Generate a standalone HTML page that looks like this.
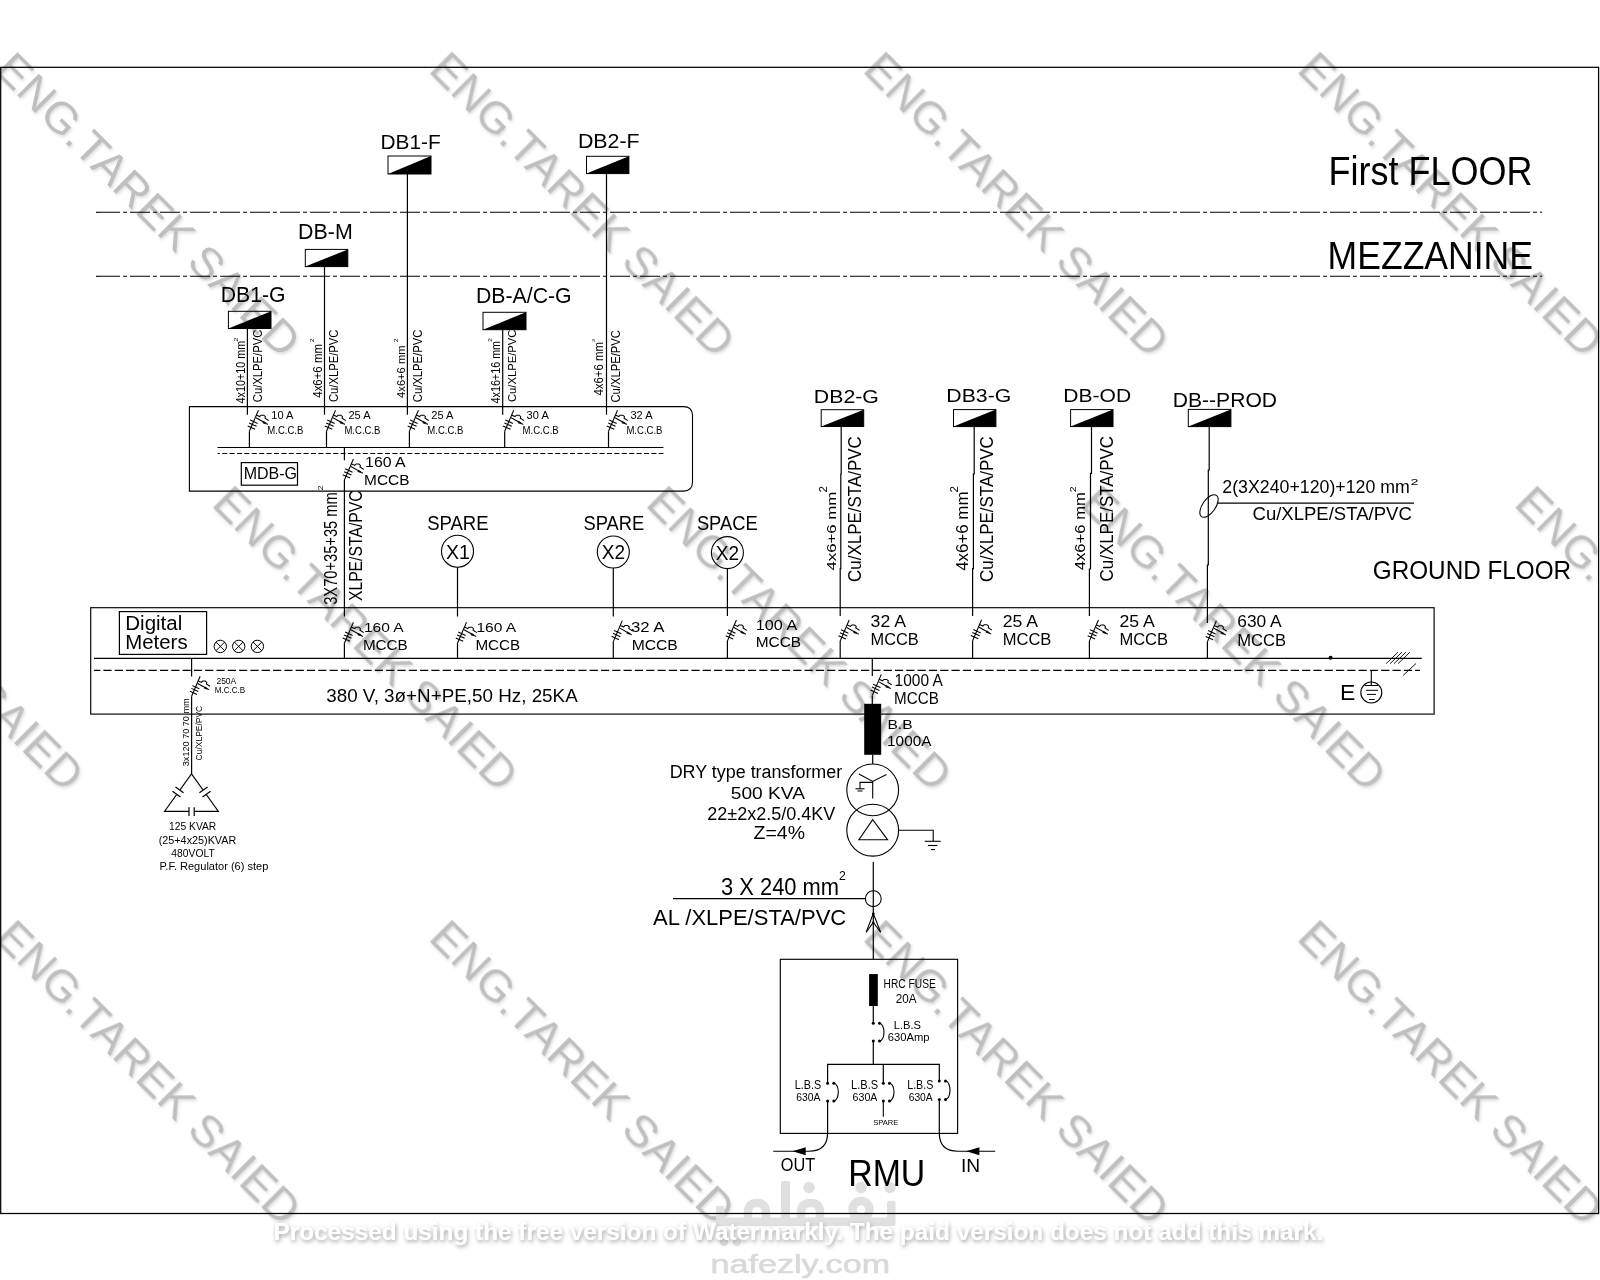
<!DOCTYPE html><html><head><meta charset="utf-8"><style>html,body{margin:0;padding:0;background:#fff;width:1600px;height:1280px;overflow:hidden}svg{display:block}text{font-family:"Liberation Sans",sans-serif}</style></head><body>
<svg width="1600" height="1280" viewBox="0 0 1600 1280">
<defs><filter id="ws" x="-10%" y="-10%" width="130%" height="130%"><feGaussianBlur in="SourceAlpha" stdDeviation="1.5"/><feOffset dx="1.2" dy="1.6" result="b"/><feFlood flood-color="#a0a0a0" flood-opacity="0.35"/><feComposite in2="b" operator="in"/><feMerge><feMergeNode/><feMergeNode in="SourceGraphic"/></feMerge></filter><filter id="ps" x="-5%" y="-50%" width="110%" height="200%"><feGaussianBlur in="SourceAlpha" stdDeviation="2.2"/><feOffset dx="1.2" dy="1.8" result="b"/><feFlood flood-color="#707070" flood-opacity="0.65"/><feComposite in2="b" operator="in"/><feMerge><feMergeNode/><feMergeNode in="SourceGraphic"/></feMerge></filter></defs>
<g fill="#bfbfbf" filter="url(#ws)">
<text transform="translate(-3.6,74.0) rotate(45)" x="-4.2" y="0" font-size="44" textLength="408" lengthAdjust="spacingAndGlyphs">ENG.TAREK SAIED</text>
<text transform="translate(430.5,74.0) rotate(45)" x="-4.2" y="0" font-size="44" textLength="408" lengthAdjust="spacingAndGlyphs">ENG.TAREK SAIED</text>
<text transform="translate(864.6,74.0) rotate(45)" x="-4.2" y="0" font-size="44" textLength="408" lengthAdjust="spacingAndGlyphs">ENG.TAREK SAIED</text>
<text transform="translate(1298.7,74.0) rotate(45)" x="-4.2" y="0" font-size="44" textLength="408" lengthAdjust="spacingAndGlyphs">ENG.TAREK SAIED</text>
<text transform="translate(-220.7,508.1) rotate(45)" x="-4.2" y="0" font-size="44" textLength="408" lengthAdjust="spacingAndGlyphs">ENG.TAREK SAIED</text>
<text transform="translate(213.5,508.1) rotate(45)" x="-4.2" y="0" font-size="44" textLength="408" lengthAdjust="spacingAndGlyphs">ENG.TAREK SAIED</text>
<text transform="translate(647.5,508.1) rotate(45)" x="-4.2" y="0" font-size="44" textLength="408" lengthAdjust="spacingAndGlyphs">ENG.TAREK SAIED</text>
<text transform="translate(1081.7,508.1) rotate(45)" x="-4.2" y="0" font-size="44" textLength="408" lengthAdjust="spacingAndGlyphs">ENG.TAREK SAIED</text>
<text transform="translate(1515.8,508.1) rotate(45)" x="-4.2" y="0" font-size="44" textLength="408" lengthAdjust="spacingAndGlyphs">ENG.TAREK SAIED</text>
<text transform="translate(-3.6,942.2) rotate(45)" x="-4.2" y="0" font-size="44" textLength="408" lengthAdjust="spacingAndGlyphs">ENG.TAREK SAIED</text>
<text transform="translate(430.5,942.2) rotate(45)" x="-4.2" y="0" font-size="44" textLength="408" lengthAdjust="spacingAndGlyphs">ENG.TAREK SAIED</text>
<text transform="translate(864.6,942.2) rotate(45)" x="-4.2" y="0" font-size="44" textLength="408" lengthAdjust="spacingAndGlyphs">ENG.TAREK SAIED</text>
<text transform="translate(1298.7,942.2) rotate(45)" x="-4.2" y="0" font-size="44" textLength="408" lengthAdjust="spacingAndGlyphs">ENG.TAREK SAIED</text>
</g>
<g fill="#e4e4e4" stroke="none">
<text x="710.5" y="1272.5" font-size="25.36" textLength="179.6" lengthAdjust="spacingAndGlyphs" fill="#d9d9d9" font-weight="normal" stroke="#d9d9d9" stroke-width="0.6">nafezly.com</text>
</g>
<g fill="#e0e0e0" stroke="none">
<rect x="716" y="1217.5" width="179" height="8.5" rx="3"/>
<rect x="781" y="1181" width="9" height="45" rx="2"/>
<rect x="887" y="1201" width="8.5" height="25" rx="2"/>
<path d="M716,1206 L724,1206 L726,1226 L716,1226 Z"/>
<circle cx="809" cy="1187.5" r="5.8"/><circle cx="861" cy="1187.5" r="5.8"/><circle cx="890" cy="1187.5" r="5.8"/><circle cx="724" cy="1242" r="4.2"/><circle cx="737" cy="1242" r="4.2"/>
</g>
<g fill="none" stroke="#e0e0e0" stroke-width="8.5">
<path d="M748,1226 L748,1212 Q748,1203 757,1203 Q766,1203 766,1212 L766,1222"/>
<path d="M801,1222 L801,1212 Q801,1203 811,1203 Q820,1203 820,1212 L820,1222"/>
<circle cx="861" cy="1209.5" r="8.5"/>
</g>
<g stroke="#000" fill="none" stroke-linecap="butt">
<rect x="0.7" y="67.3" width="1597.9" height="1146.2" stroke-width="1.25"/>
<line x1="96" y1="212.3" x2="100" y2="212.3" stroke-width="1.1" />
<line x1="100" y1="212.3" x2="1542" y2="212.3" stroke-width="1.1" stroke-dasharray="20 3 4 3"/>
<line x1="96" y1="276.3" x2="100" y2="276.3" stroke-width="1.1" />
<line x1="100" y1="276.3" x2="1542" y2="276.3" stroke-width="1.1" stroke-dasharray="20 3 4 3"/>
<path d="M189.4,406.6 H683.5 Q692.5,406.6 692.5,415.6 V482.1 Q692.5,491.1 683.5,491.1 H189.4 Z" stroke-width="1.1"/>
<line x1="217.5" y1="447.5" x2="663.4" y2="447.5" stroke-width="1.2" />
<line x1="217.5" y1="453.5" x2="663.4" y2="453.5" stroke-width="1.2" stroke-dasharray="5 2.4" stroke-dashoffset="2.7"/>
<rect x="241.3" y="462.6" width="56.2" height="22.6" stroke-width="1.2"/>
<rect x="388" y="156" width="43" height="18" fill="none" stroke-width="1.0"/>
<polygon points="388,174 431,156 431,174" fill="#000" stroke="none"/>
<rect x="586.5" y="156.3" width="42.39999999999998" height="17.299999999999983" fill="none" stroke-width="1.0"/>
<polygon points="586.5,173.6 628.9,156.3 628.9,173.6" fill="#000" stroke="none"/>
<rect x="305.3" y="249.4" width="42.5" height="17.200000000000017" fill="none" stroke-width="1.0"/>
<polygon points="305.3,266.6 347.8,249.4 347.8,266.6" fill="#000" stroke="none"/>
<rect x="228.4" y="311.3" width="42.599999999999994" height="17.19999999999999" fill="none" stroke-width="1.0"/>
<polygon points="228.4,328.5 271,311.3 271,328.5" fill="#000" stroke="none"/>
<rect x="483" y="312.3" width="43" height="17.399999999999977" fill="none" stroke-width="1.0"/>
<polygon points="483,329.7 526,312.3 526,329.7" fill="#000" stroke="none"/>
<line x1="407.4" y1="174" x2="407.4" y2="414.7" stroke-width="1.2" />
<g transform="translate(409.4,431.2) scale(1.0)" stroke-width="1.05" fill="none"><line x1="0" y1="0" x2="9" y2="-21"/><line x1="-1.70" y1="-5.30" x2="5.70" y2="-1.90"/><line x1="-0.30" y1="-8.30" x2="7.10" y2="-4.90"/><line x1="0.75" y1="-11.20" x2="8.15" y2="-7.80"/><path d="M6.5,-13.5 L16.5,-7.9"/><path d="M14.2,-9.8 L18.6,-6.8 L13.4,-8.3 Z" fill="#000" stroke-width="0.6"/><path d="M6.75,-16.25 L10.3,-14.6 L11.6,-16 L14.4,-16 L16,-14.6 L15.6,-13 L19.4,-10.6"/></g>
<line x1="409.4" y1="431.2" x2="409.4" y2="447.5" stroke-width="1.2" />
<line x1="606.5" y1="173.6" x2="606.5" y2="414.7" stroke-width="1.2" />
<g transform="translate(608.5,431.2) scale(1.0)" stroke-width="1.05" fill="none"><line x1="0" y1="0" x2="9" y2="-21"/><line x1="-1.70" y1="-5.30" x2="5.70" y2="-1.90"/><line x1="-0.30" y1="-8.30" x2="7.10" y2="-4.90"/><line x1="0.75" y1="-11.20" x2="8.15" y2="-7.80"/><path d="M6.5,-13.5 L16.5,-7.9"/><path d="M14.2,-9.8 L18.6,-6.8 L13.4,-8.3 Z" fill="#000" stroke-width="0.6"/><path d="M6.75,-16.25 L10.3,-14.6 L11.6,-16 L14.4,-16 L16,-14.6 L15.6,-13 L19.4,-10.6"/></g>
<line x1="608.5" y1="431.2" x2="608.5" y2="447.5" stroke-width="1.2" />
<line x1="324.5" y1="266.6" x2="324.5" y2="414.7" stroke-width="1.2" />
<g transform="translate(326.5,431.2) scale(1.0)" stroke-width="1.05" fill="none"><line x1="0" y1="0" x2="9" y2="-21"/><line x1="-1.70" y1="-5.30" x2="5.70" y2="-1.90"/><line x1="-0.30" y1="-8.30" x2="7.10" y2="-4.90"/><line x1="0.75" y1="-11.20" x2="8.15" y2="-7.80"/><path d="M6.5,-13.5 L16.5,-7.9"/><path d="M14.2,-9.8 L18.6,-6.8 L13.4,-8.3 Z" fill="#000" stroke-width="0.6"/><path d="M6.75,-16.25 L10.3,-14.6 L11.6,-16 L14.4,-16 L16,-14.6 L15.6,-13 L19.4,-10.6"/></g>
<line x1="326.5" y1="431.2" x2="326.5" y2="447.5" stroke-width="1.2" />
<line x1="247.4" y1="328.5" x2="247.4" y2="414.7" stroke-width="1.2" />
<g transform="translate(249.4,431.2) scale(1.0)" stroke-width="1.05" fill="none"><line x1="0" y1="0" x2="9" y2="-21"/><line x1="-1.70" y1="-5.30" x2="5.70" y2="-1.90"/><line x1="-0.30" y1="-8.30" x2="7.10" y2="-4.90"/><line x1="0.75" y1="-11.20" x2="8.15" y2="-7.80"/><path d="M6.5,-13.5 L16.5,-7.9"/><path d="M14.2,-9.8 L18.6,-6.8 L13.4,-8.3 Z" fill="#000" stroke-width="0.6"/><path d="M6.75,-16.25 L10.3,-14.6 L11.6,-16 L14.4,-16 L16,-14.6 L15.6,-13 L19.4,-10.6"/></g>
<line x1="249.4" y1="431.2" x2="249.4" y2="447.5" stroke-width="1.2" />
<line x1="502.7" y1="329.7" x2="502.7" y2="414.7" stroke-width="1.2" />
<g transform="translate(504.7,431.2) scale(1.0)" stroke-width="1.05" fill="none"><line x1="0" y1="0" x2="9" y2="-21"/><line x1="-1.70" y1="-5.30" x2="5.70" y2="-1.90"/><line x1="-0.30" y1="-8.30" x2="7.10" y2="-4.90"/><line x1="0.75" y1="-11.20" x2="8.15" y2="-7.80"/><path d="M6.5,-13.5 L16.5,-7.9"/><path d="M14.2,-9.8 L18.6,-6.8 L13.4,-8.3 Z" fill="#000" stroke-width="0.6"/><path d="M6.75,-16.25 L10.3,-14.6 L11.6,-16 L14.4,-16 L16,-14.6 L15.6,-13 L19.4,-10.6"/></g>
<line x1="504.7" y1="431.2" x2="504.7" y2="447.5" stroke-width="1.2" />
<line x1="344.4" y1="447.4" x2="344.4" y2="460.3" stroke-width="1.2" />
<g transform="translate(344.4,480) scale(1.0)" stroke-width="1.05" fill="none"><line x1="0" y1="0" x2="9" y2="-21"/><line x1="-1.70" y1="-5.30" x2="5.70" y2="-1.90"/><line x1="-0.30" y1="-8.30" x2="7.10" y2="-4.90"/><line x1="0.75" y1="-11.20" x2="8.15" y2="-7.80"/><path d="M6.5,-13.5 L16.5,-7.9"/><path d="M14.2,-9.8 L18.6,-6.8 L13.4,-8.3 Z" fill="#000" stroke-width="0.6"/><path d="M6.75,-16.25 L10.3,-14.6 L11.6,-16 L14.4,-16 L16,-14.6 L15.6,-13 L19.4,-10.6"/></g>
<line x1="344.4" y1="480" x2="344.4" y2="616.5" stroke-width="1.2" />
<rect x="90.7" y="607.7" width="1343.4" height="106.4" stroke-width="1.15"/>
<line x1="94" y1="658.3" x2="1421.8" y2="658.3" stroke-width="1.2" />
<line x1="94" y1="670.4" x2="1420" y2="670.4" stroke-width="1.2" stroke-dasharray="8.2 3.108" stroke-dashoffset="1.9"/>
<rect x="119.4" y="611.6" width="87.2" height="42.8" stroke-width="1.2"/>
<circle cx="220.3" cy="646.4" r="6.2" stroke-width="1"/>
<line x1="215.91598000000002" y1="642.01598" x2="224.68402" y2="650.7840199999999" stroke-width="1" />
<line x1="215.91598000000002" y1="650.7840199999999" x2="224.68402" y2="642.01598" stroke-width="1" />
<circle cx="238.7" cy="646.4" r="6.2" stroke-width="1"/>
<line x1="234.31598" y1="642.01598" x2="243.08401999999998" y2="650.7840199999999" stroke-width="1" />
<line x1="234.31598" y1="650.7840199999999" x2="243.08401999999998" y2="642.01598" stroke-width="1" />
<circle cx="257.4" cy="646.4" r="6.2" stroke-width="1"/>
<line x1="253.01597999999998" y1="642.01598" x2="261.78402" y2="650.7840199999999" stroke-width="1" />
<line x1="253.01597999999998" y1="650.7840199999999" x2="261.78402" y2="642.01598" stroke-width="1" />
<g transform="translate(344.4,643.2) scale(1.0)" stroke-width="1.05" fill="none"><line x1="0" y1="0" x2="9" y2="-21"/><line x1="-1.70" y1="-5.30" x2="5.70" y2="-1.90"/><line x1="-0.30" y1="-8.30" x2="7.10" y2="-4.90"/><line x1="0.75" y1="-11.20" x2="8.15" y2="-7.80"/><path d="M6.5,-13.5 L16.5,-7.9"/><path d="M14.2,-9.8 L18.6,-6.8 L13.4,-8.3 Z" fill="#000" stroke-width="0.6"/><path d="M6.75,-16.25 L10.3,-14.6 L11.6,-16 L14.4,-16 L16,-14.6 L15.6,-13 L19.4,-10.6"/></g>
<line x1="344.4" y1="643.2" x2="344.4" y2="658.3" stroke-width="1.2" />
<circle cx="457.5" cy="551.2" r="16" stroke-width="1.1"/>
<line x1="457.5" y1="567.2" x2="457.5" y2="616.5" stroke-width="1.2" />
<g transform="translate(457.5,643.2) scale(1.0)" stroke-width="1.05" fill="none"><line x1="0" y1="0" x2="9" y2="-21"/><line x1="-1.70" y1="-5.30" x2="5.70" y2="-1.90"/><line x1="-0.30" y1="-8.30" x2="7.10" y2="-4.90"/><line x1="0.75" y1="-11.20" x2="8.15" y2="-7.80"/><path d="M6.5,-13.5 L16.5,-7.9"/><path d="M14.2,-9.8 L18.6,-6.8 L13.4,-8.3 Z" fill="#000" stroke-width="0.6"/><path d="M6.75,-16.25 L10.3,-14.6 L11.6,-16 L14.4,-16 L16,-14.6 L15.6,-13 L19.4,-10.6"/></g>
<line x1="457.5" y1="643.2" x2="457.5" y2="658.3" stroke-width="1.2" />
<circle cx="613.3" cy="552" r="16" stroke-width="1.1"/>
<line x1="613.3" y1="568" x2="613.3" y2="616.4" stroke-width="1.2" />
<g transform="translate(613.3,641.6) scale(1.0)" stroke-width="1.05" fill="none"><line x1="0" y1="0" x2="9" y2="-21"/><line x1="-1.70" y1="-5.30" x2="5.70" y2="-1.90"/><line x1="-0.30" y1="-8.30" x2="7.10" y2="-4.90"/><line x1="0.75" y1="-11.20" x2="8.15" y2="-7.80"/><path d="M6.5,-13.5 L16.5,-7.9"/><path d="M14.2,-9.8 L18.6,-6.8 L13.4,-8.3 Z" fill="#000" stroke-width="0.6"/><path d="M6.75,-16.25 L10.3,-14.6 L11.6,-16 L14.4,-16 L16,-14.6 L15.6,-13 L19.4,-10.6"/></g>
<line x1="613.3" y1="641.6" x2="613.3" y2="658.3" stroke-width="1.2" />
<circle cx="727.4" cy="552.6" r="16" stroke-width="1.1"/>
<line x1="727.4" y1="568.6" x2="727.4" y2="616" stroke-width="1.2" />
<g transform="translate(727.4,641) scale(1.0)" stroke-width="1.05" fill="none"><line x1="0" y1="0" x2="9" y2="-21"/><line x1="-1.70" y1="-5.30" x2="5.70" y2="-1.90"/><line x1="-0.30" y1="-8.30" x2="7.10" y2="-4.90"/><line x1="0.75" y1="-11.20" x2="8.15" y2="-7.80"/><path d="M6.5,-13.5 L16.5,-7.9"/><path d="M14.2,-9.8 L18.6,-6.8 L13.4,-8.3 Z" fill="#000" stroke-width="0.6"/><path d="M6.75,-16.25 L10.3,-14.6 L11.6,-16 L14.4,-16 L16,-14.6 L15.6,-13 L19.4,-10.6"/></g>
<line x1="727.4" y1="641" x2="727.4" y2="658.3" stroke-width="1.2" />
<rect x="821.2" y="409.7" width="42.5" height="16.80000000000001" fill="none" stroke-width="1.0"/>
<polygon points="821.2,426.5 863.7,409.7 863.7,426.5" fill="#000" stroke="none"/>
<rect x="953.5" y="409.6" width="42.39999999999998" height="17.0" fill="none" stroke-width="1.0"/>
<polygon points="953.5,426.6 995.9,409.6 995.9,426.6" fill="#000" stroke="none"/>
<rect x="1070.6" y="409.6" width="42.40000000000009" height="17.0" fill="none" stroke-width="1.0"/>
<polygon points="1070.6,426.6 1113,409.6 1113,426.6" fill="#000" stroke="none"/>
<rect x="1188.3" y="409.4" width="42.600000000000136" height="17.200000000000045" fill="none" stroke-width="1.0"/>
<polygon points="1188.3,426.6 1230.9,409.4 1230.9,426.6" fill="#000" stroke="none"/>
<polyline points="841.2,426.5 841.2,474 840.8,474 840.8,568.6 840.2,568.6 840.2,616" fill="none" stroke-width="1.2" />
<g transform="translate(840.2,641) scale(1.0)" stroke-width="1.05" fill="none"><line x1="0" y1="0" x2="9" y2="-21"/><line x1="-1.70" y1="-5.30" x2="5.70" y2="-1.90"/><line x1="-0.30" y1="-8.30" x2="7.10" y2="-4.90"/><line x1="0.75" y1="-11.20" x2="8.15" y2="-7.80"/><path d="M6.5,-13.5 L16.5,-7.9"/><path d="M14.2,-9.8 L18.6,-6.8 L13.4,-8.3 Z" fill="#000" stroke-width="0.6"/><path d="M6.75,-16.25 L10.3,-14.6 L11.6,-16 L14.4,-16 L16,-14.6 L15.6,-13 L19.4,-10.6"/></g>
<line x1="840.2" y1="641" x2="840.2" y2="658.3" stroke-width="1.2" />
<polyline points="974.2,426.6 974.2,474 973.4,474 973.4,568.6 972.6,568.6 972.6,616" fill="none" stroke-width="1.2" />
<g transform="translate(972.6,640.7) scale(1.0)" stroke-width="1.05" fill="none"><line x1="0" y1="0" x2="9" y2="-21"/><line x1="-1.70" y1="-5.30" x2="5.70" y2="-1.90"/><line x1="-0.30" y1="-8.30" x2="7.10" y2="-4.90"/><line x1="0.75" y1="-11.20" x2="8.15" y2="-7.80"/><path d="M6.5,-13.5 L16.5,-7.9"/><path d="M14.2,-9.8 L18.6,-6.8 L13.4,-8.3 Z" fill="#000" stroke-width="0.6"/><path d="M6.75,-16.25 L10.3,-14.6 L11.6,-16 L14.4,-16 L16,-14.6 L15.6,-13 L19.4,-10.6"/></g>
<line x1="972.6" y1="640.7" x2="972.6" y2="658.3" stroke-width="1.2" />
<polyline points="1091.5,426.6 1091.5,473.4 1090.5,473.4 1090.5,569 1089.4,569 1089.4,616" fill="none" stroke-width="1.2" />
<g transform="translate(1089.4,641) scale(1.0)" stroke-width="1.05" fill="none"><line x1="0" y1="0" x2="9" y2="-21"/><line x1="-1.70" y1="-5.30" x2="5.70" y2="-1.90"/><line x1="-0.30" y1="-8.30" x2="7.10" y2="-4.90"/><line x1="0.75" y1="-11.20" x2="8.15" y2="-7.80"/><path d="M6.5,-13.5 L16.5,-7.9"/><path d="M14.2,-9.8 L18.6,-6.8 L13.4,-8.3 Z" fill="#000" stroke-width="0.6"/><path d="M6.75,-16.25 L10.3,-14.6 L11.6,-16 L14.4,-16 L16,-14.6 L15.6,-13 L19.4,-10.6"/></g>
<line x1="1089.4" y1="641" x2="1089.4" y2="658.3" stroke-width="1.2" />
<polyline points="1209.2,426.6 1209.2,470 1208.3,470 1208.3,565 1207.4,565 1207.4,623" fill="none" stroke-width="1.2" />
<g transform="translate(1207.4,641.7) scale(1.0)" stroke-width="1.05" fill="none"><line x1="0" y1="0" x2="9" y2="-21"/><line x1="-1.70" y1="-5.30" x2="5.70" y2="-1.90"/><line x1="-0.30" y1="-8.30" x2="7.10" y2="-4.90"/><line x1="0.75" y1="-11.20" x2="8.15" y2="-7.80"/><path d="M6.5,-13.5 L16.5,-7.9"/><path d="M14.2,-9.8 L18.6,-6.8 L13.4,-8.3 Z" fill="#000" stroke-width="0.6"/><path d="M6.75,-16.25 L10.3,-14.6 L11.6,-16 L14.4,-16 L16,-14.6 L15.6,-13 L19.4,-10.6"/></g>
<line x1="1207.4" y1="641.7" x2="1207.4" y2="658.3" stroke-width="1.2" />
<ellipse cx="1209" cy="506" rx="6.5" ry="13" transform="rotate(35 1209 506)" stroke-width="1.1"/>
<line x1="1217.6" y1="503.1" x2="1414" y2="503.1" stroke-width="1.1" />
<circle cx="1330.6" cy="657.8" r="2" fill="#000" stroke="none"/>
<line x1="1386.2" y1="663.6" x2="1398.0" y2="652.2" stroke-width="0.9" />
<line x1="1390.15" y1="663.6" x2="1401.95" y2="652.2" stroke-width="0.9" />
<line x1="1394.1000000000001" y1="663.6" x2="1405.9" y2="652.2" stroke-width="0.9" />
<line x1="1398.05" y1="663.6" x2="1409.85" y2="652.2" stroke-width="0.9" />
<line x1="1403" y1="675.5" x2="1416" y2="663.5" stroke-width="0.9" />
<line x1="1371.3" y1="670.4" x2="1371.3" y2="685.5" stroke-width="1.1" />
<circle cx="1371.3" cy="692.5" r="10.5" stroke-width="1.1"/>
<line x1="1364.5" y1="685.5" x2="1378.1" y2="685.5" stroke-width="1" />
<line x1="1366" y1="690.3" x2="1378" y2="690.3" stroke-width="1" />
<line x1="1367" y1="694.4" x2="1376" y2="694.4" stroke-width="1" />
<line x1="1369" y1="699.5" x2="1374.7" y2="699.5" stroke-width="1" />
<line x1="191.6" y1="658.3" x2="191.6" y2="676.6" stroke-width="1.2" />
<g transform="translate(191.6,696.25) scale(0.95)" stroke-width="1.11" fill="none"><line x1="0" y1="0" x2="9" y2="-21"/><line x1="-1.70" y1="-5.30" x2="5.70" y2="-1.90"/><line x1="-0.30" y1="-8.30" x2="7.10" y2="-4.90"/><line x1="0.75" y1="-11.20" x2="8.15" y2="-7.80"/><path d="M6.5,-13.5 L16.5,-7.9"/><path d="M14.2,-9.8 L18.6,-6.8 L13.4,-8.3 Z" fill="#000" stroke-width="0.6"/><path d="M6.75,-16.25 L10.3,-14.6 L11.6,-16 L14.4,-16 L16,-14.6 L15.6,-13 L19.4,-10.6"/></g>
<line x1="191.6" y1="696.25" x2="191.6" y2="773.9" stroke-width="1.2" />
<polyline points="191.5,773.9 164.5,811.4 189,811.4" fill="none" stroke-width="1.1" />
<polyline points="194.2,811.4 218.4,811.4 191.5,773.9" fill="none" stroke-width="1.1" />
<line x1="189" y1="807.3" x2="189" y2="815.9" stroke-width="1.2" />
<line x1="194.2" y1="807.3" x2="194.2" y2="815.9" stroke-width="1.2" />
<g transform="translate(178,792) rotate(-54)"><rect x="-3" y="-6" width="6" height="12" fill="#fff" stroke="none"/><line x1="-2.6" y1="-5" x2="-2.6" y2="5" stroke-width="1.2"/><line x1="2.6" y1="-5" x2="2.6" y2="5" stroke-width="1.2"/></g>
<g transform="translate(205,792) rotate(54)"><rect x="-3" y="-6" width="6" height="12" fill="#fff" stroke="none"/><line x1="-2.6" y1="-5" x2="-2.6" y2="5" stroke-width="1.2"/><line x1="2.6" y1="-5" x2="2.6" y2="5" stroke-width="1.2"/></g>
<line x1="872.3" y1="658.3" x2="872.3" y2="676" stroke-width="1.2" />
<g transform="translate(872.3,695.4) scale(1.0)" stroke-width="1.05" fill="none"><line x1="0" y1="0" x2="9" y2="-21"/><line x1="-1.70" y1="-5.30" x2="5.70" y2="-1.90"/><line x1="-0.30" y1="-8.30" x2="7.10" y2="-4.90"/><line x1="0.75" y1="-11.20" x2="8.15" y2="-7.80"/><path d="M6.5,-13.5 L16.5,-7.9"/><path d="M14.2,-9.8 L18.6,-6.8 L13.4,-8.3 Z" fill="#000" stroke-width="0.6"/><path d="M6.75,-16.25 L10.3,-14.6 L11.6,-16 L14.4,-16 L16,-14.6 L15.6,-13 L19.4,-10.6"/></g>
<line x1="872.3" y1="695.4" x2="872.3" y2="704" stroke-width="1.2" />
<rect x="864.2" y="703.8" width="17" height="51" fill="#000" stroke="none"/>
<line x1="872.7" y1="754.8" x2="872.7" y2="764" stroke-width="1.2" />
<circle cx="872.7" cy="789.9" r="25.9" stroke-width="1.1"/>
<circle cx="872.7" cy="830.2" r="25.9" stroke-width="1.1"/>
<polyline points="858.9,774 872.7,781.4 886.5,774.6" fill="none" stroke-width="1.1" />
<line x1="872.7" y1="781.4" x2="872.7" y2="798.4" stroke-width="1.1" />
<polyline points="872.7,782.4 860,782.4 860,788.8" fill="none" stroke-width="1.1" />
<line x1="855.5" y1="788.8" x2="864.5" y2="788.8" stroke-width="1.1" />
<line x1="857.5" y1="791" x2="862.5" y2="791" stroke-width="1" />
<polygon points="872.7,819.6 858.9,839.8 887.6,839.8" stroke-width="1.1"/>
<polyline points="898.6,830.2 933.2,830.2 933.2,841.3" fill="none" stroke-width="1.1" />
<line x1="924.7" y1="841.3" x2="940.7" y2="841.3" stroke-width="1.1" />
<line x1="928" y1="845.5" x2="937.5" y2="845.5" stroke-width="1.1" />
<line x1="931" y1="849.6" x2="935" y2="849.6" stroke-width="1.1" />
<line x1="873.3" y1="862" x2="873.3" y2="959.3" stroke-width="1.2" />
<circle cx="873.3" cy="898.7" r="7.9" fill="none" stroke-width="1.1"/>
<line x1="673" y1="898.7" x2="865.4" y2="898.7" stroke-width="1.2" />
<polyline points="866.2,932.3 873.3,913.5 880.6,932.3" fill="none" stroke-width="1.05" />
<polyline points="866.2,932.3 873.3,922.5 880.6,932.3" fill="none" stroke-width="1.05" />
<circle cx="873.3" cy="913.8" r="1.4" fill="#000" stroke="none"/><circle cx="873.3" cy="922.8" r="1.2" fill="#000" stroke="none"/>
<rect x="780.3" y="959.3" width="177.3" height="174.1" stroke-width="1.15"/>
<rect x="869.1" y="974.1" width="8.7" height="31.9" fill="#000" stroke="none"/>
<line x1="873.3" y1="1006" x2="873.3" y2="1023.3" stroke-width="1.2" />
<circle cx="873.3" cy="1023.3" r="1.5" fill="#000" stroke="none"/><circle cx="879.5" cy="1023.3" r="1.5" fill="#000" stroke="none"/>
<circle cx="873.3" cy="1041" r="1.5" fill="#000" stroke="none"/><circle cx="879.5" cy="1041" r="1.5" fill="#000" stroke="none"/>
<path d="M879.5,1023.3 A4.5,8.850000000000023 0 0 1 879.5,1041" stroke-width="1.1"/>
<line x1="873.3" y1="1041" x2="873.3" y2="1064.3" stroke-width="1.2" />
<polyline points="827.6,1083.2 827.6,1064.3 939.3,1064.3 939.3,1081" fill="none" stroke-width="1.2" />
<line x1="883.3" y1="1064.3" x2="883.3" y2="1083.2" stroke-width="1.2" />
<circle cx="827.6" cy="1083.2" r="1.5" fill="#000" stroke="none"/><circle cx="833.8000000000001" cy="1083.2" r="1.5" fill="#000" stroke="none"/>
<circle cx="827.6" cy="1100.9" r="1.5" fill="#000" stroke="none"/><circle cx="833.8000000000001" cy="1100.9" r="1.5" fill="#000" stroke="none"/>
<path d="M833.8000000000001,1083.2 A4.5,8.850000000000023 0 0 1 833.8000000000001,1100.9" stroke-width="1.1"/>
<circle cx="883.3" cy="1083.2" r="1.5" fill="#000" stroke="none"/><circle cx="889.5" cy="1083.2" r="1.5" fill="#000" stroke="none"/>
<circle cx="883.3" cy="1100.9" r="1.5" fill="#000" stroke="none"/><circle cx="889.5" cy="1100.9" r="1.5" fill="#000" stroke="none"/>
<path d="M889.5,1083.2 A4.5,8.850000000000023 0 0 1 889.5,1100.9" stroke-width="1.1"/>
<circle cx="939.3" cy="1081" r="1.5" fill="#000" stroke="none"/><circle cx="945.5" cy="1081" r="1.5" fill="#000" stroke="none"/>
<circle cx="939.3" cy="1099.4" r="1.5" fill="#000" stroke="none"/><circle cx="945.5" cy="1099.4" r="1.5" fill="#000" stroke="none"/>
<path d="M945.5,1081 A4.5,9.200000000000045 0 0 1 945.5,1099.4" stroke-width="1.1"/>
<line x1="883.3" y1="1100.9" x2="883.3" y2="1116.7" stroke-width="1.1" />
<path d="M827.6,1100.9 V1133 Q827.6,1151.25 808.75,1151.25 H773.2" stroke-width="1.2"/>
<polygon points="792.5,1151.25 805.7,1147.3 805.7,1155.2" fill="#000" stroke="none"/>
<path d="M939.3,1099.4 V1133 Q939.3,1151.25 958,1151.25 H995.2" stroke-width="1.2"/>
<polygon points="966.2,1151.25 979.4,1147.3 979.4,1155.2" fill="#000" stroke="none"/>
</g>
<g fill="#000">
<text x="1328.6" y="185.0" font-size="40.22" textLength="204.0" lengthAdjust="spacingAndGlyphs" fill="#000" font-weight="normal" >First FLOOR</text>
<text x="1327.6" y="269.0" font-size="39.71" textLength="205.4" lengthAdjust="spacingAndGlyphs" fill="#000" font-weight="normal" >MEZZANINE</text>
<text x="1372.8" y="579.0" font-size="25.80" textLength="198.3" lengthAdjust="spacingAndGlyphs" fill="#000" font-weight="normal" >GROUND FLOOR</text>
<text x="380.4" y="148.7" font-size="20.43" textLength="60.3" lengthAdjust="spacingAndGlyphs" fill="#000" font-weight="normal" >DB1-F</text>
<text x="577.9" y="148.4" font-size="20.14" textLength="61.8" lengthAdjust="spacingAndGlyphs" fill="#000" font-weight="normal" >DB2-F</text>
<text x="298.1" y="239.4" font-size="21.74" textLength="54.6" lengthAdjust="spacingAndGlyphs" fill="#000" font-weight="normal" >DB-M</text>
<text x="220.7" y="301.5" font-size="21.74" textLength="64.8" lengthAdjust="spacingAndGlyphs" fill="#000" font-weight="normal" >DB1-G</text>
<text x="476.0" y="302.5" font-size="21.16" textLength="95.6" lengthAdjust="spacingAndGlyphs" fill="#000" font-weight="normal" >DB-A/C-G</text>
<text x="813.8" y="402.6" font-size="19.28" textLength="65.1" lengthAdjust="spacingAndGlyphs" fill="#000" font-weight="normal" >DB2-G</text>
<text x="946.3" y="402.3" font-size="19.28" textLength="65.0" lengthAdjust="spacingAndGlyphs" fill="#000" font-weight="normal" >DB3-G</text>
<text x="1063.3" y="402.3" font-size="19.28" textLength="67.8" lengthAdjust="spacingAndGlyphs" fill="#000" font-weight="normal" >DB-OD</text>
<text x="1172.8" y="406.5" font-size="20.43" textLength="104.2" lengthAdjust="spacingAndGlyphs" fill="#000" font-weight="normal" >DB--PROD</text>
<text x="243.7" y="478.5" font-size="16.23" textLength="53.4" lengthAdjust="spacingAndGlyphs" fill="#000" font-weight="normal" >MDB-G</text>
<text x="365.1" y="466.6" font-size="14.93" textLength="40.6" lengthAdjust="spacingAndGlyphs" fill="#000" font-weight="normal" >160 A</text>
<text x="364.1" y="484.7" font-size="14.93" textLength="45.4" lengthAdjust="spacingAndGlyphs" fill="#000" font-weight="normal" >MCCB</text>
<text x="271.3" y="418.8" font-size="10.87" textLength="22.2" lengthAdjust="spacingAndGlyphs" fill="#000" font-weight="normal" >10 A</text>
<text x="267.3" y="433.5" font-size="10.14" textLength="36.1" lengthAdjust="spacingAndGlyphs" fill="#000" font-weight="normal" >M.C.C.B</text>
<text x="348.4" y="418.8" font-size="10.87" textLength="22.2" lengthAdjust="spacingAndGlyphs" fill="#000" font-weight="normal" >25 A</text>
<text x="344.4" y="433.5" font-size="10.14" textLength="36.1" lengthAdjust="spacingAndGlyphs" fill="#000" font-weight="normal" >M.C.C.B</text>
<text x="431.3" y="418.8" font-size="10.87" textLength="22.2" lengthAdjust="spacingAndGlyphs" fill="#000" font-weight="normal" >25 A</text>
<text x="427.3" y="433.5" font-size="10.14" textLength="36.1" lengthAdjust="spacingAndGlyphs" fill="#000" font-weight="normal" >M.C.C.B</text>
<text x="526.6" y="418.8" font-size="10.87" textLength="22.2" lengthAdjust="spacingAndGlyphs" fill="#000" font-weight="normal" >30 A</text>
<text x="522.6" y="433.5" font-size="10.14" textLength="36.1" lengthAdjust="spacingAndGlyphs" fill="#000" font-weight="normal" >M.C.C.B</text>
<text x="630.4" y="418.8" font-size="10.87" textLength="22.2" lengthAdjust="spacingAndGlyphs" fill="#000" font-weight="normal" >32 A</text>
<text x="626.4" y="433.5" font-size="10.14" textLength="36.1" lengthAdjust="spacingAndGlyphs" fill="#000" font-weight="normal" >M.C.C.B</text>
<text x="125.3" y="630.0" font-size="19.57" textLength="57.0" lengthAdjust="spacingAndGlyphs" fill="#000" font-weight="normal" >Digital</text>
<text x="125.3" y="648.8" font-size="19.57" textLength="62.3" lengthAdjust="spacingAndGlyphs" fill="#000" font-weight="normal" >Meters</text>
<text x="363.9" y="632.3" font-size="13.62" textLength="39.8" lengthAdjust="spacingAndGlyphs" fill="#000" font-weight="normal" >160 A</text>
<text x="362.9" y="650.0" font-size="14.78" textLength="44.9" lengthAdjust="spacingAndGlyphs" fill="#000" font-weight="normal" >MCCB</text>
<text x="476.4" y="632.3" font-size="13.62" textLength="39.8" lengthAdjust="spacingAndGlyphs" fill="#000" font-weight="normal" >160 A</text>
<text x="475.4" y="650.0" font-size="14.78" textLength="44.8" lengthAdjust="spacingAndGlyphs" fill="#000" font-weight="normal" >MCCB</text>
<text x="630.9" y="632.3" font-size="14.64" textLength="33.5" lengthAdjust="spacingAndGlyphs" fill="#000" font-weight="normal" >32 A</text>
<text x="631.7" y="649.6" font-size="15.36" textLength="46.1" lengthAdjust="spacingAndGlyphs" fill="#000" font-weight="normal" >MCCB</text>
<text x="755.8" y="629.7" font-size="13.77" textLength="41.4" lengthAdjust="spacingAndGlyphs" fill="#000" font-weight="normal" >100 A</text>
<text x="755.7" y="647.0" font-size="14.49" textLength="45.5" lengthAdjust="spacingAndGlyphs" fill="#000" font-weight="normal" >MCCB</text>
<text x="870.6" y="627.0" font-size="15.80" textLength="35.3" lengthAdjust="spacingAndGlyphs" fill="#000" font-weight="normal" >32 A</text>
<text x="870.6" y="644.8" font-size="15.80" textLength="48.2" lengthAdjust="spacingAndGlyphs" fill="#000" font-weight="normal" >MCCB</text>
<text x="1002.7" y="627.0" font-size="15.80" textLength="35.3" lengthAdjust="spacingAndGlyphs" fill="#000" font-weight="normal" >25 A</text>
<text x="1002.7" y="644.8" font-size="15.80" textLength="48.7" lengthAdjust="spacingAndGlyphs" fill="#000" font-weight="normal" >MCCB</text>
<text x="1119.4" y="627.0" font-size="15.80" textLength="35.4" lengthAdjust="spacingAndGlyphs" fill="#000" font-weight="normal" >25 A</text>
<text x="1119.4" y="644.8" font-size="15.80" textLength="48.7" lengthAdjust="spacingAndGlyphs" fill="#000" font-weight="normal" >MCCB</text>
<text x="1237.3" y="626.8" font-size="15.94" textLength="44.4" lengthAdjust="spacingAndGlyphs" fill="#000" font-weight="normal" >630 A</text>
<text x="1237.3" y="646.0" font-size="17.39" textLength="48.8" lengthAdjust="spacingAndGlyphs" fill="#000" font-weight="normal" >MCCB</text>
<text x="894.6" y="685.8" font-size="15.65" textLength="48.2" lengthAdjust="spacingAndGlyphs" fill="#000" font-weight="normal" >1000 A</text>
<text x="894.0" y="704.0" font-size="16.38" textLength="44.8" lengthAdjust="spacingAndGlyphs" fill="#000" font-weight="normal" >MCCB</text>
<text x="326.2" y="701.5" font-size="19.13" textLength="251.5" lengthAdjust="spacingAndGlyphs" fill="#000" font-weight="normal" >380 V, 3ø+N+PE,50 Hz, 25KA</text>
<text x="427.2" y="530.0" font-size="20.29" textLength="61.4" lengthAdjust="spacingAndGlyphs" fill="#000" font-weight="normal" >SPARE</text>
<text x="583.5" y="530.0" font-size="21.01" textLength="60.7" lengthAdjust="spacingAndGlyphs" fill="#000" font-weight="normal" >SPARE</text>
<text x="696.9" y="530.0" font-size="21.01" textLength="60.7" lengthAdjust="spacingAndGlyphs" fill="#000" font-weight="normal" >SPACE</text>
<text x="445.9" y="558.5" font-size="21.01" textLength="23.9" lengthAdjust="spacingAndGlyphs" fill="#000" font-weight="normal" >X1</text>
<text x="601.7" y="559.0" font-size="21.01" textLength="23.3" lengthAdjust="spacingAndGlyphs" fill="#000" font-weight="normal" >X2</text>
<text x="715.7" y="559.5" font-size="21.01" textLength="23.3" lengthAdjust="spacingAndGlyphs" fill="#000" font-weight="normal" >X2</text>
<text x="1340.0" y="700.0" font-size="22.03" textLength="15.3" lengthAdjust="spacingAndGlyphs" fill="#000" font-weight="normal" >E</text>
<text x="216.4" y="683.8" font-size="8.33" textLength="19.9" lengthAdjust="spacingAndGlyphs" fill="#000" font-weight="normal" >250A</text>
<text x="214.8" y="693.4" font-size="8.70" textLength="30.4" lengthAdjust="spacingAndGlyphs" fill="#000" font-weight="normal" >M.C.C.B</text>
<text x="1222.3" y="493.0" font-size="17.83" textLength="187.6" lengthAdjust="spacingAndGlyphs" fill="#000" font-weight="normal" >2(3X240+120)+120 mm</text>
<text x="1410.5" y="485.0" font-size="8.70" textLength="8.0" lengthAdjust="spacingAndGlyphs" fill="#000" font-weight="normal" >2</text>
<text x="1252.5" y="519.5" font-size="18.70" textLength="159.3" lengthAdjust="spacingAndGlyphs" fill="#000" font-weight="normal" >Cu/XLPE/STA/PVC</text>
<text x="887.4" y="728.7" font-size="13.04" textLength="25.2" lengthAdjust="spacingAndGlyphs" fill="#000" font-weight="normal" >B.B</text>
<text x="887.1" y="745.7" font-size="14.49" textLength="44.3" lengthAdjust="spacingAndGlyphs" fill="#000" font-weight="normal" >1000A</text>
<text x="669.7" y="777.5" font-size="17.54" textLength="172.5" lengthAdjust="spacingAndGlyphs" fill="#000" font-weight="normal" >DRY type transformer</text>
<text x="730.8" y="799.4" font-size="16.96" textLength="74.1" lengthAdjust="spacingAndGlyphs" fill="#000" font-weight="normal" >500  KVA</text>
<text x="707.3" y="819.6" font-size="17.83" textLength="128.0" lengthAdjust="spacingAndGlyphs" fill="#000" font-weight="normal" >22±2x2.5/0.4KV</text>
<text x="753.6" y="839.2" font-size="19.13" textLength="51.4" lengthAdjust="spacingAndGlyphs" fill="#000" font-weight="normal" >Z=4%</text>
<text x="721.0" y="895.0" font-size="23.04" textLength="118.1" lengthAdjust="spacingAndGlyphs" fill="#000" font-weight="normal" >3 X 240 mm</text>
<text x="838.9" y="880.0" font-size="13.62" textLength="6.8" lengthAdjust="spacingAndGlyphs" fill="#000" font-weight="normal" >2</text>
<text x="653.1" y="925.4" font-size="22.32" textLength="193.1" lengthAdjust="spacingAndGlyphs" fill="#000" font-weight="normal" >AL /XLPE/STA/PVC</text>
<text x="883.6" y="988.1" font-size="12.32" textLength="52.2" lengthAdjust="spacingAndGlyphs" fill="#000" font-weight="normal" >HRC FUSE</text>
<text x="895.8" y="1003.0" font-size="11.88" textLength="20.8" lengthAdjust="spacingAndGlyphs" fill="#000" font-weight="normal" >20A</text>
<text x="893.8" y="1028.8" font-size="10.87" textLength="27.2" lengthAdjust="spacingAndGlyphs" fill="#000" font-weight="normal" >L.B.S</text>
<text x="887.7" y="1041.0" font-size="11.01" textLength="41.8" lengthAdjust="spacingAndGlyphs" fill="#000" font-weight="normal" >630Amp</text>
<text x="794.8" y="1088.7" font-size="12.32" textLength="26.4" lengthAdjust="spacingAndGlyphs" fill="#000" font-weight="normal" >L.B.S</text>
<text x="796.3" y="1100.5" font-size="11.23" textLength="24.2" lengthAdjust="spacingAndGlyphs" fill="#000" font-weight="normal" >630A</text>
<text x="851.1" y="1088.7" font-size="12.32" textLength="27.0" lengthAdjust="spacingAndGlyphs" fill="#000" font-weight="normal" >L.B.S</text>
<text x="852.6" y="1100.5" font-size="11.23" textLength="24.8" lengthAdjust="spacingAndGlyphs" fill="#000" font-weight="normal" >630A</text>
<text x="907.2" y="1088.7" font-size="12.32" textLength="26.2" lengthAdjust="spacingAndGlyphs" fill="#000" font-weight="normal" >L.B.S</text>
<text x="908.7" y="1100.5" font-size="11.23" textLength="24.0" lengthAdjust="spacingAndGlyphs" fill="#000" font-weight="normal" >630A</text>
<text x="873.3" y="1124.5" font-size="7.97" textLength="25.1" lengthAdjust="spacingAndGlyphs" fill="#000" font-weight="normal" >SPARE</text>
<text x="780.8" y="1170.5" font-size="17.54" textLength="34.4" lengthAdjust="spacingAndGlyphs" fill="#000" font-weight="normal" >OUT</text>
<text x="961.0" y="1171.6" font-size="17.68" textLength="19.2" lengthAdjust="spacingAndGlyphs" fill="#000" font-weight="normal" >IN</text>
<text x="848.2" y="1185.8" font-size="36.81" textLength="77.1" lengthAdjust="spacingAndGlyphs" fill="#000" font-weight="normal" >RMU</text>
<text x="169.1" y="829.8" font-size="10.14" textLength="47.1" lengthAdjust="spacingAndGlyphs" fill="#000" font-weight="normal" >125 KVAR</text>
<text x="158.7" y="843.6" font-size="10.72" textLength="77.6" lengthAdjust="spacingAndGlyphs" fill="#000" font-weight="normal" >(25+4x25)KVAR</text>
<text x="171.3" y="857.0" font-size="10.14" textLength="43.4" lengthAdjust="spacingAndGlyphs" fill="#000" font-weight="normal" >480VOLT</text>
<text x="159.4" y="869.6" font-size="10.72" textLength="108.9" lengthAdjust="spacingAndGlyphs" fill="#000" font-weight="normal" >P.F.  Regulator (6) step</text>
<text transform="translate(244.7,403.4) rotate(-90)" x="0" y="0" font-size="11.88" textLength="62.5" lengthAdjust="spacingAndGlyphs">4x10+10 mm</text>
<text transform="translate(237.5,341.8) rotate(-90)" font-size="5.80" textLength="4.1" lengthAdjust="spacingAndGlyphs">2</text>
<text transform="translate(261.5,402.2) rotate(-90)" x="0" y="0" font-size="12.61" textLength="72.6" lengthAdjust="spacingAndGlyphs">Cu/XLPE/PVC</text>
<text transform="translate(322.1,397.7) rotate(-90)" x="0" y="0" font-size="12.90" textLength="53.6" lengthAdjust="spacingAndGlyphs">4x6+6 mm</text>
<text transform="translate(314.2,342.3) rotate(-90)" font-size="5.65" textLength="3.8" lengthAdjust="spacingAndGlyphs">2</text>
<text transform="translate(337.9,402.1) rotate(-90)" x="0" y="0" font-size="12.46" textLength="72.6" lengthAdjust="spacingAndGlyphs">Cu/XLPE/PVC</text>
<text transform="translate(404.5,397.9) rotate(-90)" x="0" y="0" font-size="10.87" textLength="52.4" lengthAdjust="spacingAndGlyphs">4x6+6 mm</text>
<text transform="translate(398.0,342.3) rotate(-90)" font-size="5.80" textLength="3.8" lengthAdjust="spacingAndGlyphs">2</text>
<text transform="translate(421.9,402.2) rotate(-90)" x="0" y="0" font-size="12.90" textLength="72.6" lengthAdjust="spacingAndGlyphs">Cu/XLPE/PVC</text>
<text transform="translate(499.7,403.5) rotate(-90)" x="0" y="0" font-size="12.25" textLength="62.6" lengthAdjust="spacingAndGlyphs">4x16+16 mm</text>
<text transform="translate(492.0,341.8) rotate(-90)" font-size="5.80" textLength="3.6" lengthAdjust="spacingAndGlyphs">2</text>
<text transform="translate(516.1,402.1) rotate(-90)" x="0" y="0" font-size="11.59" textLength="72.5" lengthAdjust="spacingAndGlyphs">Cu/XLPE/PVC</text>
<text transform="translate(603.3,395.5) rotate(-90)" x="0" y="0" font-size="12.32" textLength="53.4" lengthAdjust="spacingAndGlyphs">4x6+6 mm</text>
<text transform="translate(594.6,342.1) rotate(-90)" font-size="4.35" textLength="3.2" lengthAdjust="spacingAndGlyphs">2</text>
<text transform="translate(619.7,402.6) rotate(-90)" x="0" y="0" font-size="12.25" textLength="72.6" lengthAdjust="spacingAndGlyphs">Cu/XLPE/PVC</text>
<text transform="translate(337.0,604.8) rotate(-90)" x="0" y="0" font-size="17.83" textLength="112.6" lengthAdjust="spacingAndGlyphs">3X70+35+35 mm</text>
<text transform="translate(323.0,490.4) rotate(-90)" font-size="6.81" textLength="5.1" lengthAdjust="spacingAndGlyphs">2</text>
<text transform="translate(362.4,601.1) rotate(-90)" x="0" y="0" font-size="17.97" textLength="110.7" lengthAdjust="spacingAndGlyphs">XLPE/STA/PVC</text>
<text transform="translate(836.4,570.6) rotate(-90)" x="0" y="0" font-size="13.48" textLength="79.0" lengthAdjust="spacingAndGlyphs">4x6+6 mm</text>
<text transform="translate(826.6,492.6) rotate(-90)" font-size="10.14" textLength="6.4" lengthAdjust="spacingAndGlyphs">2</text>
<text transform="translate(861.2,581.9) rotate(-90)" x="0" y="0" font-size="18.41" textLength="145.7" lengthAdjust="spacingAndGlyphs">Cu/XLPE/STA/PVC</text>
<text transform="translate(968.2,570.8) rotate(-90)" x="0" y="0" font-size="15.94" textLength="79.3" lengthAdjust="spacingAndGlyphs">4x6+6 mm</text>
<text transform="translate(958.4,492.6) rotate(-90)" font-size="10.14" textLength="6.4" lengthAdjust="spacingAndGlyphs">2</text>
<text transform="translate(993.1,581.9) rotate(-90)" x="0" y="0" font-size="17.68" textLength="145.7" lengthAdjust="spacingAndGlyphs">Cu/XLPE/STA/PVC</text>
<text transform="translate(1084.5,570.2) rotate(-90)" x="0" y="0" font-size="14.06" textLength="78.1" lengthAdjust="spacingAndGlyphs">4x6+6 mm</text>
<text transform="translate(1075.5,492.3) rotate(-90)" font-size="9.42" textLength="5.8" lengthAdjust="spacingAndGlyphs">2</text>
<text transform="translate(1112.9,581.4) rotate(-90)" x="0" y="0" font-size="18.26" textLength="145.4" lengthAdjust="spacingAndGlyphs">Cu/XLPE/STA/PVC</text>
<text transform="translate(189.0,766.2) rotate(-90)" x="0" y="0" font-size="8.70" textLength="67.8" lengthAdjust="spacingAndGlyphs">3x120 70 70 mm</text>
<text transform="translate(202.3,760.4) rotate(-90)" x="0" y="0" font-size="9.57" textLength="54.6" lengthAdjust="spacingAndGlyphs">Cu/XLPE/PVC</text>
</g>
<g filter="url(#ps)">
<text x="273.5" y="1239.7" font-size="24.35" textLength="1049.7" lengthAdjust="spacingAndGlyphs" fill="#ffffff" font-weight="bold" >Processed using the free version of Watermarkly. The paid version does not add this mark.</text>
</g>
</svg></body></html>
